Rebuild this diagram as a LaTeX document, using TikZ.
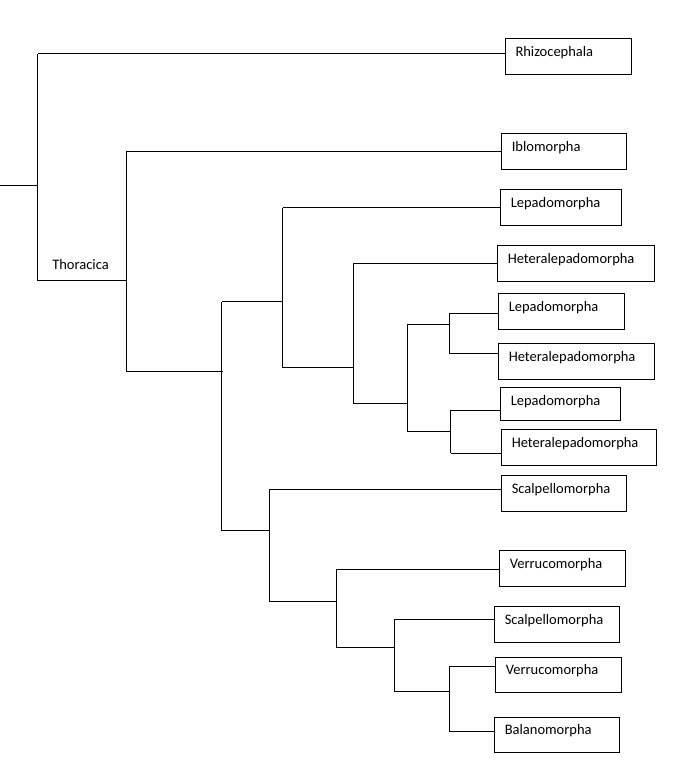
\documentclass[tikz,border=0pt]{standalone}
\usepackage{fontspec}
\setmainfont{Carlito}
\begin{document}
\begin{tikzpicture}[x=1pt,y=-1pt,
  br/.style={line width=1pt, black},
  taxon/.style={draw, line width=1pt, anchor=north west, inner xsep=10pt, inner ysep=0pt,
    text height=17.5pt, text depth=18.5pt, align=left, font=\fontsize{14.5}{17}\selectfont}]
\useasboundingbox (0,0) rectangle (680,767);

% taxon boxes
\node[taxon, text width=105.5pt] (rhizo) at (505,38.3) {Rhizocephala};
\node[taxon, text width=105pt] (iblo) at (501.3,133.3) {Iblomorpha};
\node[taxon, text width=100.4pt] (lepa1) at (500.3,189.3) {Lepadomorpha};
\node[taxon, text width=137pt, text depth=18.2pt] (het1) at (497.3,245.3) {Heteralepadomorpha};
\node[taxon, text width=105.4pt] (lepa2) at (498.3,293.3) {Lepadomorpha};
\node[taxon, text width=136pt] (het2) at (498.3,343.3) {Heteralepadomorpha};
\node[taxon, text width=100pt, text depth=15.2pt] (lepa3) at (500.3,387.3) {Lepadomorpha};
\node[taxon, text width=135pt] (het3) at (501.3,429.3) {Heteralepadomorpha};
\node[taxon, text width=105pt] (scal1) at (501.3,475.3) {Scalpellomorpha};
\node[taxon, text width=105.4pt] (verr1) at (499.3,550.3) {Verrucomorpha};
\node[taxon, text width=105pt] (scal2) at (494.3,606.3) {Scalpellomorpha};
\node[taxon, text width=105.4pt, text depth=18.1pt] (verr2) at (495.3,656.7) {Verrucomorpha};
\node[taxon, text width=105pt, text depth=18.1pt] (bala) at (494.3,716.7) {Balanomorpha};

% label
\node[font=\fontsize{14.5}{17}\selectfont, inner sep=0pt] (thorlab) at (80.5,265) {Thoracica};

% internal coordinates
\coordinate (r0) at (0,186);
\coordinate (rm) at (38,186);
\coordinate (rt) at (37.7,54);
\coordinate (rb) at (37.7,280.7);
\coordinate (tm) at (126.7,280.7);
\coordinate (tt) at (126.7,151.3);
\coordinate (tb) at (126.7,371.5);
\coordinate (am) at (223,371.5);
\coordinate (at) at (221.5,301.7);
\coordinate (ab) at (221.5,530.7);
\coordinate (bm) at (282.7,301.7);
\coordinate (bt) at (282.7,207.7);
\coordinate (bb) at (282.7,367.5);
\coordinate (dm) at (353.3,367.5);
\coordinate (dt) at (353.3,263.3);
\coordinate (db) at (353.3,403.3);
\coordinate (em) at (407,403.3);
\coordinate (et) at (407,324.5);
\coordinate (eb) at (407,431);
\coordinate (fm) at (449.3,324.5);
\coordinate (ft) at (449.3,313.3);
\coordinate (fb) at (449.3,353.3);
\coordinate (gm) at (450.7,431);
\coordinate (gt) at (450.7,410);
\coordinate (gb) at (450.7,453.3);
\coordinate (cm) at (269.3,530.7);
\coordinate (ct) at (269.3,489);
\coordinate (cb) at (269.3,601.7);
\coordinate (hm) at (336.3,601.7);
\coordinate (ht) at (336.3,569.3);
\coordinate (hb) at (336.3,647.3);
\coordinate (im) at (394,647.3);
\coordinate (it) at (394,619.3);
\coordinate (ib) at (394,691);
\coordinate (jm) at (449.3,691);
\coordinate (jt) at (449.3,666.7);
\coordinate (jb) at (449.3,731.7);

% branches
\draw[br] (r0) -- (rm);
\draw[br] (rt) -- (rb);
\draw[br] (rt) -- (rt -| rhizo.west);
\draw[br] (rb) -- (tm);
\draw[br] (tt) -- (tb);
\draw[br] (tt) -- (tt -| iblo.west);
\draw[br] (tb) -- (am);
\draw[br] (at) -- (ab);
\draw[br] (at) -- (bm);
\draw[br] (ab) -- (cm);
\draw[br] (bt) -- (bb);
\draw[br] (bt) -- (bt -| lepa1.west);
\draw[br] (bb) -- (dm);
\draw[br] (dt) -- (db);
\draw[br] (dt) -- (dt -| het1.west);
\draw[br] (db) -- (em);
\draw[br] (et) -- (eb);
\draw[br] (et) -- (fm);
\draw[br] (eb) -- (gm);
\draw[br] (ft) -- (fb);
\draw[br] (ft) -- (ft -| lepa2.west);
\draw[br] (fb) -- (fb -| het2.west);
\draw[br] (gt) -- (gb);
\draw[br] (gt) -- (gt -| lepa3.west);
\draw[br] (gb) -- (gb -| het3.west);
\draw[br] (ct) -- (cb);
\draw[br] (ct) -- (ct -| scal1.west);
\draw[br] (cb) -- (hm);
\draw[br] (ht) -- (hb);
\draw[br] (ht) -- (ht -| verr1.west);
\draw[br] (hb) -- (im);
\draw[br] (it) -- (ib);
\draw[br] (it) -- (it -| scal2.west);
\draw[br] (ib) -- (jm);
\draw[br] (jt) -- (jb);
\draw[br] (jt) -- (jt -| verr2.west);
\draw[br] (jb) -- (jb -| bala.west);
\end{tikzpicture}
\end{document}
